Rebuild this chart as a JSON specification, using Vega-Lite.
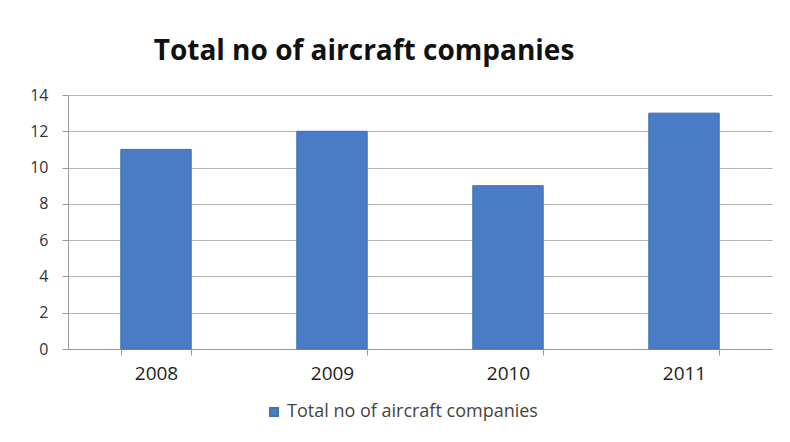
{
  "$schema": "https://vega.github.io/schema/vega-lite/v6.json",
  "autosize": {"type": "none"},
  "width": 704,
  "height": 254,
  "padding": {"left": 68, "top": 95, "right": 18, "bottom": 93},
  "background": "white",
  "title": {
    "text": "Total no of aircraft companies",
    "font": "Open Sans",
    "fontSize": 28,
    "fontWeight": "bold",
    "color": "#111111",
    "anchor": "middle",
    "frame": "group",
    "offset": 21,
    "dx": -56
  },
  "data": {
    "values": [
      {"year": "2008", "count": 11, "series": "Total no of aircraft companies"},
      {"year": "2009", "count": 12, "series": "Total no of aircraft companies"},
      {"year": "2010", "count": 9, "series": "Total no of aircraft companies"},
      {"year": "2011", "count": 13, "series": "Total no of aircraft companies"}
    ]
  },
  "mark": {"type": "bar", "stroke": "#3d6db5", "strokeWidth": 1},
  "encoding": {
    "x": {
      "field": "year",
      "type": "nominal",
      "scale": {"paddingInner": 0.6, "paddingOuter": 0.3},
      "axis": {
        "title": null,
        "labelAngle": 0,
        "labelFont": "Open Sans",
        "labelFontSize": 19,
        "labelColor": "#222222",
        "labelPadding": 9,
        "domainColor": "#999999",
        "tickColor": "#999999",
        "tickBand": "extent",
        "tickSize": 6
      }
    },
    "y": {
      "field": "count",
      "type": "quantitative",
      "scale": {"domain": [0, 14]},
      "axis": {
        "title": null,
        "values": [0, 2, 4, 6, 8, 10, 12, 14],
        "labelFont": "Open Sans",
        "labelFontSize": 16,
        "labelColor": "#333333",
        "labelPadding": 14,
        "tickSize": 6,
        "tickColor": "#999999",
        "domainColor": "#999999",
        "gridColor": "#b5b5b5",
        "gridWidth": 1
      }
    },
    "color": {
      "field": "series",
      "type": "nominal",
      "scale": {"range": ["#4a7cc6"]},
      "legend": {
        "title": null,
        "orient": "none",
        "legendX": 197,
        "legendY": 308,
        "direction": "horizontal",
        "symbolType": "square",
        "symbolSize": 70,
        "labelFont": "Open Sans",
        "labelFontSize": 18,
        "labelLimit": 400,
        "labelColor": "#444444"
      }
    }
  },
  "config": {"view": {"stroke": null}}
}
